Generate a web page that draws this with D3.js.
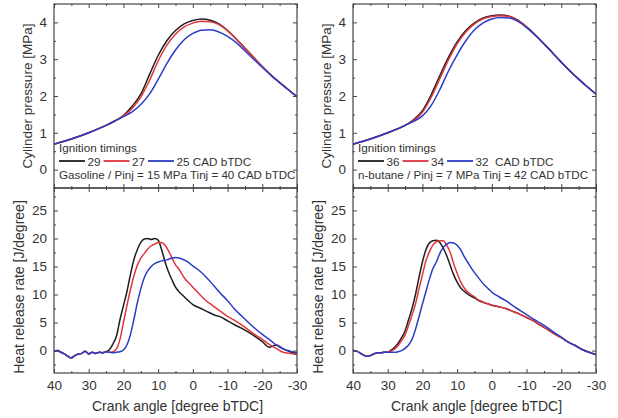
<!DOCTYPE html>
<html><head><meta charset="utf-8">
<script src="https://cdn.jsdelivr.net/npm/d3@7"></script>
<style>body{margin:0;background:#fff} text{font-family:"Liberation Sans",Arial,sans-serif}</style>
</head><body><svg id="c" width="618" height="418"></svg>
<script>
// ---------- data ----------
const pAngles = [40,35,30,25,22.5,20,17.5,15,12.5,10,7.5,5,2.5,0,-2.5,-5,-7.5,-10,-12.5,-15,-17.5,-20,-22.5,-25,-27.5,-30];
const pGas29 = [0.69,0.83,1.0,1.2,1.32,1.47,1.72,2.05,2.58,3.1,3.5,3.78,3.96,4.05,4.09,4.06,3.96,3.78,3.55,3.3,3.05,2.8,2.57,2.37,2.17,1.98];
const pGas27 = [0.69,0.83,1.0,1.2,1.32,1.46,1.66,1.97,2.42,2.95,3.38,3.68,3.88,3.98,4.03,4.02,3.94,3.77,3.55,3.3,3.05,2.8,2.57,2.37,2.17,1.98];
const pGas25 = [0.69,0.83,1.0,1.2,1.32,1.44,1.57,1.77,2.05,2.45,2.88,3.25,3.53,3.7,3.79,3.8,3.74,3.62,3.45,3.23,3.0,2.78,2.56,2.36,2.17,1.98];
const pBut36 = [0.69,0.83,1.0,1.2,1.36,1.6,2.03,2.55,3.05,3.47,3.78,3.99,4.12,4.18,4.2,4.17,4.06,3.88,3.66,3.42,3.17,2.92,2.68,2.46,2.25,2.05];
const pBut34 = [0.69,0.83,1.0,1.2,1.34,1.56,1.96,2.47,2.98,3.42,3.74,3.96,4.1,4.16,4.18,4.16,4.05,3.88,3.66,3.42,3.17,2.92,2.68,2.46,2.25,2.05];
const pBut32 = [0.69,0.83,1.0,1.2,1.31,1.46,1.74,2.17,2.68,3.12,3.5,3.8,3.99,4.09,4.13,4.12,4.03,3.86,3.65,3.42,3.17,2.92,2.68,2.46,2.25,2.05];

const hAngles = [40,39,38,37,36,35,34,33,32,31,30,29,28,27,26,25,24,23,22,21,20,19,18,17,16,15,14,13,12,11,10,9,8,7,6,5,4,3,2,1,0,-2,-4,-6,-8,-10,-12,-14,-16,-18,-20,-22,-24,-26,-28,-30];
const hGas29 = [-0.2,0,-0.3,-0.6,-1.0,-1.3,-0.9,-0.6,-0.5,-0.1,-0.6,-0.3,-0.5,-0.3,-0.4,-0.2,0.2,1.2,2.6,5.5,8.0,10.5,13.5,16.2,18.0,19.3,19.9,20.0,19.8,20.0,19.7,18.0,15.8,14.0,12.6,11.3,10.5,9.9,9.3,8.7,8.2,7.6,7.0,6.4,6.0,5.3,4.6,4.0,3.3,2.5,1.6,0.6,1.0,0.3,-0.2,-0.6];
const hGas27 = [-0.2,0,-0.3,-0.6,-1.0,-1.3,-0.9,-0.6,-0.5,-0.1,-0.6,-0.3,-0.5,-0.3,-0.4,-0.2,-0.3,-0.2,0.3,2.0,5.0,8.0,10.8,13.3,15.2,16.5,17.3,18.1,18.7,19.0,19.3,19.3,18.8,17.8,16.5,15.3,14.5,13.5,12.6,12.0,11.3,10.0,8.8,7.9,7.0,6.1,5.4,4.6,3.7,2.8,2.0,1.1,0.4,-0.3,-0.5,-0.7];
const hGas25 = [-0.2,0,-0.3,-0.6,-1.0,-1.3,-0.9,-0.6,-0.5,-0.1,-0.6,-0.3,-0.5,-0.3,-0.4,-0.2,-0.3,-0.4,-0.3,-0.2,0.1,1.0,2.8,5.5,8.5,11.0,13.0,14.2,15.0,15.5,15.8,16.0,16.1,16.3,16.5,16.6,16.5,16.3,16.0,15.6,15.1,14.2,13.0,11.6,10.2,8.9,7.4,6.2,5.0,3.9,2.9,2.0,1.0,0.3,-0.1,-0.4];
const hBut36 = [0,-0.1,-0.4,-0.8,-1.0,-0.9,-0.6,-0.4,-0.4,-0.3,-0.3,0.1,0.6,1.3,2.3,3.5,5.5,7.5,10.0,13.0,15.8,18.0,19.2,19.6,19.7,19.3,18.3,16.9,15.2,13.5,12.2,11.2,10.6,10.1,9.7,9.4,9.0,8.7,8.5,8.3,8.1,7.8,7.5,7.0,6.5,5.9,5.3,4.5,3.8,3.0,2.3,1.5,0.9,0.2,-0.3,-0.7];
const hBut34 = [0,-0.1,-0.4,-0.8,-1.0,-0.9,-0.6,-0.4,-0.4,-0.3,-0.3,-0.1,0.3,0.9,1.8,2.8,4.5,6.3,8.3,11.0,13.5,16.0,17.6,18.8,19.4,19.6,19.6,18.8,17.5,15.5,13.8,12.3,11.2,10.5,10.0,9.6,9.1,8.8,8.5,8.3,8.1,7.8,7.5,7.0,6.5,5.9,5.3,4.5,3.8,3.0,2.3,1.5,0.9,0.2,-0.3,-0.7];
const hBut32 = [0,-0.1,-0.4,-0.8,-1.0,-0.9,-0.6,-0.4,-0.4,-0.3,-0.3,-0.3,-0.3,-0.2,0.0,0.4,1.0,2.0,3.8,6.0,8.3,10.5,12.7,14.6,15.8,17.3,18.4,19.0,19.3,19.2,18.8,18.0,16.8,15.8,14.8,13.9,13.1,12.3,11.6,11.0,10.4,9.6,8.9,8.0,7.2,6.4,5.6,4.9,4.1,3.2,2.4,1.5,0.9,0.2,-0.3,-0.7];

const xMajor = [40,30,20,10,0,-10,-20,-30];
const xMinor = [35,25,15,5,-5,-15,-25];
const pMajor = [0,1,2,3,4];
const pMinor = [-0.5,0.5,1.5,2.5,3.5,4.5];
const hMajor = [0,5,10,15,20,25];
const hMinor = [-2.5,2.5,7.5,12.5,17.5,22.5,27.5];

const leftTimings = ["29","27","25 CAD bTDC"];
const rightTimings = ["36","34","32  CAD bTDC"];
const colors = ["#1e1e1e","#e0363c","#2b3bc8"];
const legendTitle = "Ignition timings";
const leftNote = "Gasoline / Pinj = 15 MPa Tinj = 40 CAD bTDC";
const rightNote = "n-butane / Pinj = 7 MPa Tinj = 42 CAD bTDC";
const yTitleTop = "Cylinder pressure [MPa]";
const yTitleBottom = "Heat release rate [J/degree]";
const xTitle = "Crank angle [degree bTDC]";

// ---------- drawing ----------
const svg = d3.select("#c");
svg.append("rect").attr("width",618).attr("height",418).attr("fill","#fff");
const axisColor = "#444", textColor = "#333";
let clipId = 0;

function panel(x0, x1, y0, y1, yDom, yMaj, yMin, angles, series, showXLabels) {
  const x = d3.scaleLinear().domain([40,-30]).range([x0,x1]);
  const y = d3.scaleLinear().domain(yDom).range([y1,y0]);
  const g = svg.append("g");
  const id = "clip" + (clipId++);
  g.append("clipPath").attr("id", id).append("rect")
    .attr("x", x0).attr("y", y0).attr("width", x1-x0).attr("height", y1-y0);
  const line = d3.line().x((d,i)=>x(angles[i])).y(d=>y(d)).curve(d3.curveMonotoneX);
  const lg = g.append("g").attr("clip-path", `url(#${id})`);
  series.forEach((s,i)=>{
    lg.append("path").attr("d", line(s)).attr("fill","none")
      .attr("stroke", colors[i]).attr("stroke-width",1.5).attr("stroke-linejoin","round");
  });
  function styleAxis(sel){
    sel.select(".domain").remove();
    sel.selectAll("line").attr("stroke", axisColor);
    sel.selectAll("text").attr("fill", textColor).style("font-size","13.5px")
       .style("font-family",'"Liberation Sans",Arial,sans-serif');
  }
  g.append("g").attr("transform",`translate(0,${y1})`)
    .call(d3.axisBottom(x).tickValues(xMajor).tickSize(-4).tickPadding(7)
      .tickFormat(showXLabels ? (d=>String(d)) : (()=>""))).call(styleAxis);
  g.append("g").attr("transform",`translate(0,${y1})`)
    .call(d3.axisBottom(x).tickValues(xMinor).tickSize(-2).tickFormat(()=>"")).call(styleAxis);
  g.append("g").attr("transform",`translate(0,${y0})`)
    .call(d3.axisTop(x).tickValues(xMajor).tickSize(-4).tickFormat(()=>"")).call(styleAxis);
  g.append("g").attr("transform",`translate(0,${y0})`)
    .call(d3.axisTop(x).tickValues(xMinor).tickSize(-2).tickFormat(()=>"")).call(styleAxis);
  g.append("g").attr("transform",`translate(${x0},0)`)
    .call(d3.axisLeft(y).tickValues(yMaj).tickSize(-4).tickPadding(7).tickFormat(d=>String(d))).call(styleAxis);
  g.append("g").attr("transform",`translate(${x0},0)`)
    .call(d3.axisLeft(y).tickValues(yMin).tickSize(-2).tickFormat(()=>"")).call(styleAxis);
  g.append("g").attr("transform",`translate(${x1},0)`)
    .call(d3.axisRight(y).tickValues(yMaj).tickSize(-4).tickFormat(()=>"")).call(styleAxis);
  g.append("g").attr("transform",`translate(${x1},0)`)
    .call(d3.axisRight(y).tickValues(yMin).tickSize(-2).tickFormat(()=>"")).call(styleAxis);
  g.append("rect").attr("x",x0).attr("y",y0).attr("width",x1-x0).attr("height",y1-y0)
    .attr("fill","none").attr("stroke",axisColor).attr("stroke-width",1.2);
  return {x,y,g};
}

function column(xOff, pSeries, hSeries, timings, note) {
  const x0 = 54 + xOff, x1 = 297 + xOff;
  panel(x0, x1, 4, 188, [-0.5,4.5], pMajor, pMinor, pAngles, pSeries, false);
  panel(x0, x1, 188, 373, [-4,29], hMajor, hMinor, hAngles, hSeries, true);
  svg.append("text").attr("transform",`translate(${32+xOff},96) rotate(-90)`)
    .attr("text-anchor","middle").attr("fill",textColor).style("font-size","13.5px").text(yTitleTop);
  svg.append("text").attr("transform",`translate(${24+xOff},287) rotate(-90)`)
    .attr("text-anchor","middle").attr("fill",textColor).style("font-size","14px").text(yTitleBottom);
  svg.append("text").attr("x",(x0+x1)/2+2).attr("y",411)
    .attr("text-anchor","middle").attr("fill",textColor).style("font-size","14px").text(xTitle);
  const lx = x0 + 5;
  svg.append("text").attr("x",lx).attr("y",152).attr("fill",textColor).style("font-size","11.7px").text(legendTitle);
  let cx = lx;
  timings.forEach((t,i)=>{
    svg.append("line").attr("x1",cx).attr("x2",cx+26).attr("y1",161).attr("y2",161)
      .attr("stroke",colors[i]).attr("stroke-width",1.8);
    const tx = svg.append("text").attr("x",cx+28.5).attr("y",165.5).attr("fill",textColor)
      .style("font-size","11.7px").attr("xml:space","preserve").style("white-space","pre").text(t);
    cx = cx + 28.5 + tx.node().getComputedTextLength() + 3;
  });
  svg.append("text").attr("x",lx).attr("y",178.5).attr("fill",textColor).style("font-size","11.6px").text(note);
}

column(0, [pGas29,pGas27,pGas25], [hGas29,hGas27,hGas25], leftTimings, leftNote);
column(299, [pBut36,pBut34,pBut32], [hBut36,hBut34,hBut32], rightTimings, rightNote);
</script></body></html>
